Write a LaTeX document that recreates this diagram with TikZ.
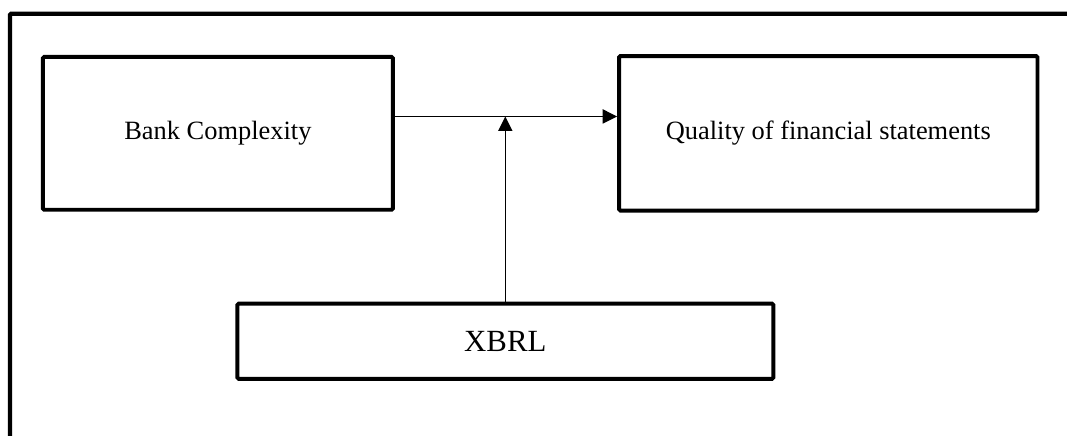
\documentclass[tikz,border=0pt]{standalone}
\usepackage{fontspec}
\setmainfont{Liberation Serif}
\usetikzlibrary{arrows.meta,positioning}
\tikzstyle{arrow}   = [line width=0.7pt,-{Triangle[length=6.6pt,width=6.4pt]}]
\tikzstyle{block}   = [draw, line width=1.8pt, rounded corners=0.6pt, align=center]

\begin{document}
\begin{tikzpicture}
        \useasboundingbox (0,0) rectangle (17.04,6.96);
        % open outer frame
        \draw[line width=2pt, rounded corners=0.6pt] (0.16,-0.2) -- (0.16,6.74) -- (17.3,6.74);
        \node[block, minimum width=5.59cm, minimum height=2.44cm, font=\fontsize{12}{14}\selectfont] (bank) at (3.48,4.83) {Bank Complexity};
        \node[block, minimum width=6.68cm, minimum height=2.47cm, font=\fontsize{12}{14}\selectfont, right=3.55cm of bank] (quality) {Quality of financial statements};
        \node[block, minimum width=8.56cm, minimum height=1.2cm, font=\fontsize{14}{17}\selectfont] (xbrl) at (8.07,1.51) {XBRL};
        \draw[arrow] ([yshift=0.27cm]bank.east) -- ([yshift=0.27cm]bank.east -| quality.west) coordinate (Q);
        \coordinate (J) at ([yshift=0.27cm]bank.east -| xbrl.north);
        \draw[arrow] (xbrl.north) -- (J);
    \end{tikzpicture}
\end{document}
